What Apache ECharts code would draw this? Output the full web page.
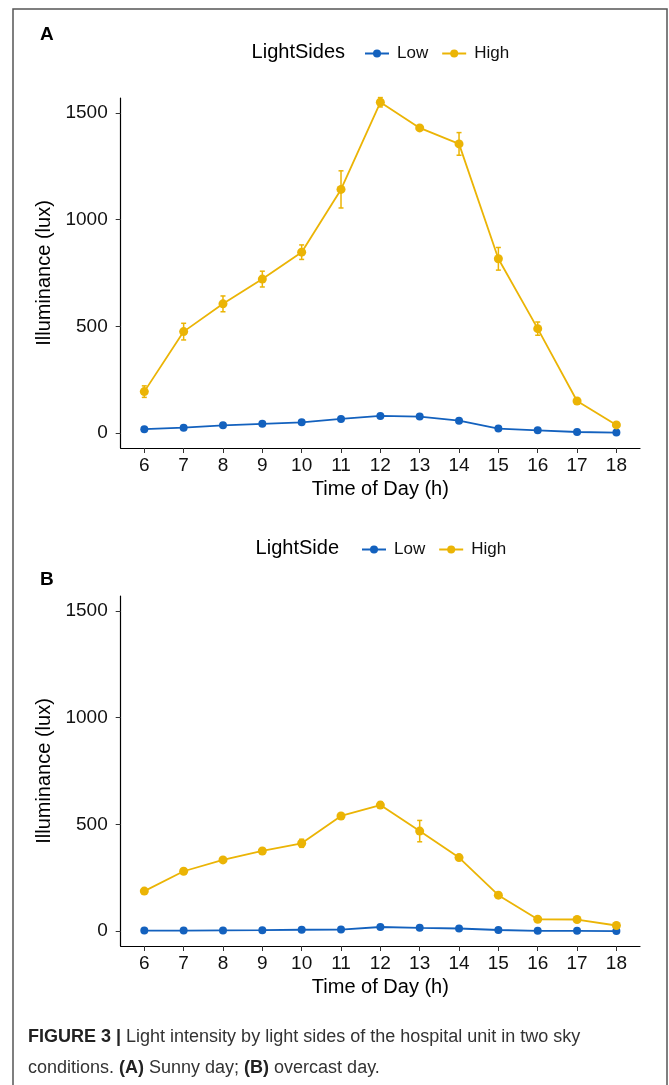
<!DOCTYPE html>
<html>
<head>
<meta charset="utf-8">
<script src="https://cdn.jsdelivr.net/npm/echarts@6/dist/echarts.min.js"></script>
<style>
html,body{margin:0;padding:0;background:#fff;}
#chart{width:669px;height:1085px;}
</style>
</head>
<body>
<div id="chart"></div>
<script>
// ---- data ----
var hours = [6, 7, 8, 9, 10, 11, 12, 13, 14, 15, 16, 17, 18];
var yTicks = [0, 500, 1000, 1500];
var seriesNames = ['Low', 'High'];
// Panel A: sunny day
var aLow = [19, 26, 37, 44, 51, 67, 81, 78, 59, 22, 14, 6, 3];
var aHigh = [195, 476, 606, 722, 848, 1142, 1550, 1430, 1355, 817, 490, 151, 39];
var aHighErr = [27, 39, 37, 37, 34, 87, 22, 10, 53, 53, 31, 10, 5];
// Panel B: overcast day
var bLow = [3, 3, 4, 5, 7, 8, 20, 16, 13, 6, 2, 2, 1];
var bHigh = [188, 281, 334, 376, 412, 540, 591, 469, 345, 169, 56, 55, 27];
var bHighErr = [6, 8, 8, 8, 19, 8, 15, 50, 12, 6, 5, 5, 5];

var BLUE = '#1361BE';
var YELLOW = '#EBB405';
var FONT = '"Liberation Sans", Arial, Helvetica, sans-serif';

function pairs(vals) { return hours.map(function (h, i) { return [h, vals[i]]; }); }
function errs(vals, e) { return hours.map(function (h, i) { return [h, vals[i] - e[i], vals[i] + e[i]]; }); }

var chart = echarts.init(document.getElementById('chart'), null, {renderer: 'canvas'});

function xAxisCfg(gi) {
  return {
    type: 'value', gridIndex: gi, min: 5.4, max: 18.6,
    name: 'Time of Day (h)', nameLocation: 'middle', nameGap: 31,
    nameTextStyle: {fontFamily: FONT, fontSize: 20, color: '#000'},
    axisLine: {show: true, onZero: false, lineStyle: {color: '#000', width: 1.2}},
    axisTick: {show: true, length: 5, lineStyle: {color: '#333', width: 1}, customValues: hours},
    axisLabel: {fontFamily: FONT, fontSize: 19, color: '#111', margin: 8, customValues: hours,
      formatter: function (v) { return String(v); }},
    splitLine: {show: false}
  };
}
function yAxisCfg(gi) {
  return {
    type: 'value', gridIndex: gi, min: -69, max: 1570,
    name: 'Illuminance (lux)', nameLocation: 'middle', nameGap: 51, nameRotate: 90,
    nameTextStyle: {fontFamily: FONT, fontSize: 20, color: '#000'},
    axisLine: {show: true, onZero: false, lineStyle: {color: '#000', width: 1.2}},
    axisTick: {show: true, length: 5, lineStyle: {color: '#333', width: 1}, customValues: yTicks},
    axisLabel: {fontFamily: FONT, fontSize: 19, color: '#111', margin: 13, customValues: yTicks,
      formatter: function (v) { return String(v); }},
    splitLine: {show: false}
  };
}

function errRender(params, api) {
  var x = api.value(0);
  var lo = api.coord([x, api.value(1)]);
  var hi = api.coord([x, api.value(2)]);
  var hw = 2.5;
  var st = {stroke: YELLOW, lineWidth: 1.5};
  return {
    type: 'group',
    children: [
      {type: 'line', shape: {x1: lo[0], y1: lo[1], x2: hi[0], y2: hi[1]}, style: st},
      {type: 'line', shape: {x1: lo[0] - hw, y1: lo[1], x2: lo[0] + hw, y2: lo[1]}, style: st},
      {type: 'line', shape: {x1: hi[0] - hw, y1: hi[1], x2: hi[0] + hw, y2: hi[1]}, style: st}
    ]
  };
}

function lineSeries(name, data, gi, color, size) {
  return {
    type: 'line', name: name, xAxisIndex: gi, yAxisIndex: gi,
    data: pairs(data), symbol: 'circle', symbolSize: size,
    itemStyle: {color: color}, lineStyle: {color: color, width: 1.8},
    emphasis: {disabled: true}, z: 3, animation: false
  };
}

function legendCfg(left, top) {
  return {
    data: seriesNames, left: left, top: top, orient: 'horizontal',
    itemWidth: 24, itemHeight: 10, itemGap: 13,
    textStyle: {fontFamily: FONT, fontSize: 17, color: '#111', padding: [0, 0, 0, 3]},
    selectedMode: false
  };
}

var option = {
  backgroundColor: '#fff',
  animation: false,
  grid: [
    {left: 120.7, right: 29, top: 98, height: 350},
    {left: 120.7, right: 29, top: 596, height: 350}
  ],
  legend: [legendCfg(359, 40), legendCfg(356, 536)],
  xAxis: [xAxisCfg(0), xAxisCfg(1)],
  yAxis: [yAxisCfg(0), yAxisCfg(1)],
  series: [
    {type: 'custom', name: 'errA', xAxisIndex: 0, yAxisIndex: 0, renderItem: errRender, data: errs(aHigh, aHighErr), z: 2, silent: true},
    {type: 'custom', name: 'errB', xAxisIndex: 1, yAxisIndex: 1, renderItem: errRender, data: errs(bHigh, bHighErr), z: 2, silent: true},
    lineSeries('Low', aLow, 0, BLUE, 8),
    lineSeries('High', aHigh, 0, YELLOW, 9),
    lineSeries('Low', bLow, 1, BLUE, 8),
    lineSeries('High', bHigh, 1, YELLOW, 9)
  ],
  graphic: [
    {type: 'rect', shape: {x: 13, y: 9, width: 654, height: 1100}, style: {fill: null, stroke: '#555', lineWidth: 1.5}, z: 0, silent: true},
    {type: 'text', left: 40, top: 25, style: {text: 'A', font: 'bold 19px ' + FONT, fill: '#000'}},
    {type: 'text', left: 40, top: 570, style: {text: 'B', font: 'bold 19px ' + FONT, fill: '#000'}},
    {type: 'text', x: 345, y: 52, style: {text: 'LightSides', font: '20px ' + FONT, fill: '#000', align: 'right', verticalAlign: 'middle'}},
    {type: 'text', x: 339, y: 548, style: {text: 'LightSide', font: '20px ' + FONT, fill: '#000', align: 'right', verticalAlign: 'middle'}},
    {type: 'text', x: 28, y: 1022, style: {
      text: '{b|FIGURE 3 |} Light intensity by light sides of the hospital unit in two sky\nconditions. {b|(A)} Sunny day; {b|(B)} overcast day.',
      font: '18px ' + FONT, fill: '#333', lineHeight: 31,
      rich: {b: {fontWeight: 'bold', fontSize: 18, fontFamily: FONT, fill: '#222', lineHeight: 31}}
    }}
  ]
};
chart.setOption(option);
</script>
</body>
</html>
